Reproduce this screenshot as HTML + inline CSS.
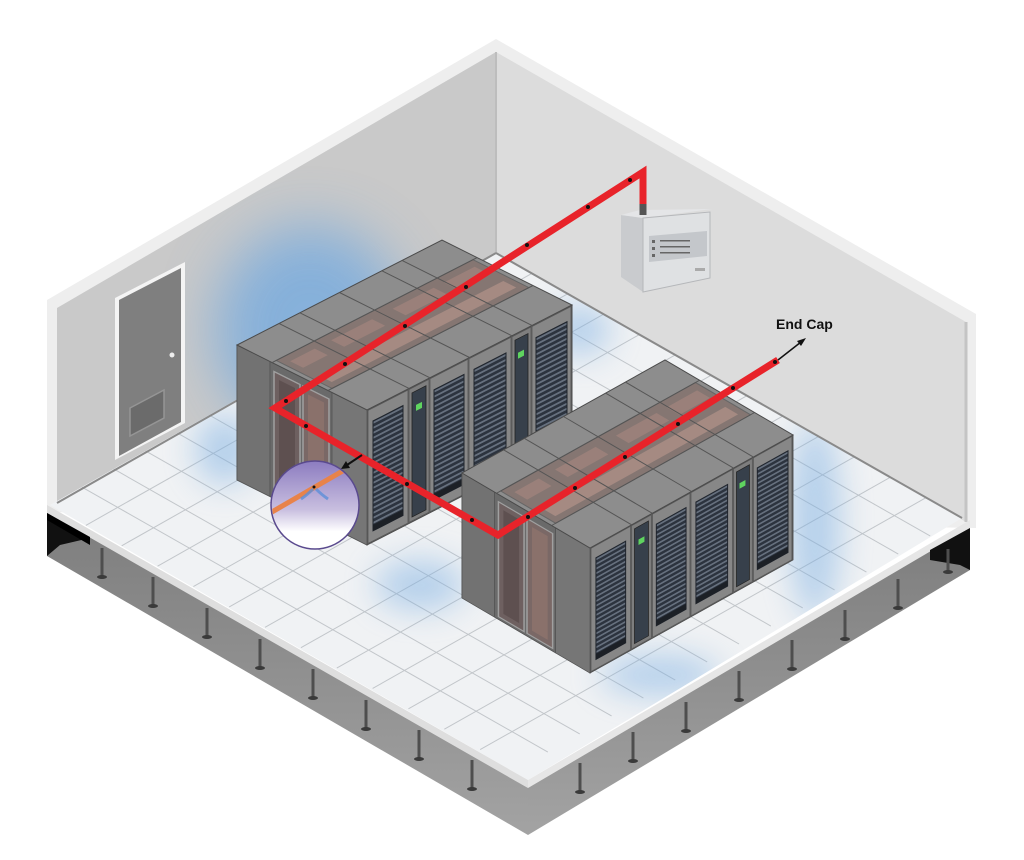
<!DOCTYPE html>
<html><head><meta charset="utf-8"><style>
html,body{margin:0;padding:0;background:#fff;}
svg{display:block;}
</style></head><body>
<svg width="1024" height="860" viewBox="0 0 1024 860" xmlns="http://www.w3.org/2000/svg">
<defs>
<filter id="blur" x="-80%" y="-80%" width="260%" height="260%"><feGaussianBlur stdDeviation="28"/></filter>
<filter id="blur2" x="-80%" y="-80%" width="260%" height="260%"><feGaussianBlur stdDeviation="16"/></filter>
<linearGradient id="baseL" x1="0" y1="0" x2="0" y2="1"><stop offset="0" stop-color="#7d7d7d"/><stop offset="1" stop-color="#a3a3a3"/></linearGradient>
<linearGradient id="mag" x1="0" y1="0" x2="0" y2="1"><stop offset="0" stop-color="#8c7cc0"/><stop offset="0.55" stop-color="#c8bedf"/><stop offset="0.8" stop-color="#ffffff"/></linearGradient>
<pattern id="stripes" width="6" height="5" patternUnits="userSpaceOnUse"><rect width="6" height="5" fill="#2c333e"/><rect y="0" width="6" height="2" fill="#66707e"/></pattern>
<clipPath id="wallclip"><polygon points="57,308 496,52 966,322 966,522 496,253 57,503"/></clipPath>
<clipPath id="floorclip"><polygon points="496,253 962,518 528,780 50,505"/></clipPath>
<g id="rf">
  <rect x="0" y="0" width="205" height="135" fill="#7c7c7c" stroke="#4a4a4a" stroke-width="1"/>
  <rect x="1" y="1" width="40" height="133" fill="#878787" stroke="#555" stroke-width="0.8"/>
  <rect x="6" y="14" width="30" height="110" fill="url(#stripes)" stroke="#1f242c" stroke-width="1"/>
  <rect x="6" y="118" width="30" height="6" fill="#1c2026"/>
  <rect x="42" y="1" width="20" height="133" fill="#7e7e7e" stroke="#555" stroke-width="0.8"/>
  <rect x="45" y="6" width="14" height="124" fill="#37404b" stroke="#222" stroke-width="0.8"/>
  <rect x="49" y="20" width="6" height="6" fill="#5fd45f"/>
  <rect x="63" y="1" width="38" height="133" fill="#878787" stroke="#555" stroke-width="0.8"/>
  <rect x="67" y="14" width="30" height="110" fill="url(#stripes)" stroke="#1f242c" stroke-width="1"/>
  <rect x="67" y="118" width="30" height="6" fill="#1c2026"/>
  <rect x="102" y="1" width="42" height="133" fill="#878787" stroke="#555" stroke-width="0.8"/>
  <rect x="107" y="14" width="32" height="110" fill="url(#stripes)" stroke="#1f242c" stroke-width="1"/>
  <rect x="107" y="118" width="32" height="6" fill="#1c2026"/>
  <rect x="145" y="1" width="19" height="133" fill="#7e7e7e" stroke="#555" stroke-width="0.8"/>
  <rect x="148" y="6" width="13" height="124" fill="#37404b" stroke="#222" stroke-width="0.8"/>
  <rect x="151" y="20" width="6" height="6" fill="#5fd45f"/>
  <rect x="165" y="1" width="39" height="133" fill="#878787" stroke="#555" stroke-width="0.8"/>
  <rect x="169" y="14" width="31" height="110" fill="url(#stripes)" stroke="#1f242c" stroke-width="1"/>
  <rect x="169" y="118" width="31" height="6" fill="#1c2026"/>
</g>
<g id="lf">
  <rect x="0" y="0" width="130" height="135" fill="#6c6c6c" stroke="#444" stroke-width="1"/>
  <rect x="0" y="0" width="33" height="135" fill="#727272" stroke="#555" stroke-width="0.8"/>
  <rect x="33" y="0" width="62" height="135" fill="#6a6a6a" stroke="#555" stroke-width="0.8"/>
  <rect x="37" y="8" width="26" height="124" fill="#6e6060" stroke="#a0a0a0" stroke-width="1.5"/>
  <rect x="66" y="8" width="26" height="124" fill="#7a6866" stroke="#a0a0a0" stroke-width="1.5"/>
  <rect x="42" y="14" width="16" height="112" fill="#5e5050"/>
  <rect x="71" y="14" width="16" height="112" fill="#8a716b"/>
  <rect x="95" y="0" width="35" height="135" fill="#767676" stroke="#555" stroke-width="0.8"/>
</g>
<g id="tf">
  <rect x="0" y="0" width="1" height="1" fill="#8d8d8d" stroke="#4a4a4a" stroke-width="1" vector-effect="non-scaling-stroke"/>
  <rect x="0.27" y="0.02" width="0.43" height="0.96" fill="#857672" stroke="#666" stroke-width="1" vector-effect="non-scaling-stroke"/>
  <rect x="0.33" y="0.05" width="0.1" height="0.12" fill="#9a807a"/>
  <rect x="0.33" y="0.25" width="0.1" height="0.2" fill="#9a807a"/>
  <rect x="0.33" y="0.55" width="0.1" height="0.2" fill="#9a807a"/>
  <rect x="0.33" y="0.8" width="0.1" height="0.15" fill="#9a807a"/>
  <rect x="0.55" y="0.05" width="0.1" height="0.9" fill="#a58a82"/>
  <g stroke="#555" stroke-width="1">
   <line x1="0" y1="0.205" x2="1" y2="0.205" vector-effect="non-scaling-stroke"/>
   <line x1="0" y1="0.307" x2="1" y2="0.307" vector-effect="non-scaling-stroke"/>
   <line x1="0" y1="0.5" x2="1" y2="0.5" vector-effect="non-scaling-stroke"/>
   <line x1="0" y1="0.707" x2="1" y2="0.707" vector-effect="non-scaling-stroke"/>
   <line x1="0" y1="0.805" x2="1" y2="0.805" vector-effect="non-scaling-stroke"/>
   <line x1="0.27" y1="0" x2="0.27" y2="1" vector-effect="non-scaling-stroke"/>
   <line x1="0.7" y1="0" x2="0.7" y2="1" vector-effect="non-scaling-stroke"/>
  </g>
</g>
</defs>

<!-- walls -->
<polygon points="47,300 496,39 976,314 976,528 47,512" fill="#eeeeee"/>
<polygon points="57,308 496,52 496,253 57,503" fill="#c9c9c9"/>
<polygon points="496,52 966,322 966,522 496,253" fill="#dcdcdc"/>
<line x1="496" y1="52" x2="496" y2="253" stroke="#bdbdbd" stroke-width="2"/>
<line x1="966" y1="322" x2="966" y2="522" stroke="#c4c4c4" stroke-width="3"/>
<g clip-path="url(#wallclip)"><ellipse cx="310" cy="330" rx="95" ry="105" fill="#6fa8e0" filter="url(#blur)" opacity="0.75"/></g>

<!-- floor -->
<polygon points="496,253 962,518 528,780 50,505" fill="#f0f2f4"/>
<g transform="matrix(-446,252,466,265,496,253)" stroke="#c2c6ca" stroke-width="1" fill="none">
<line x1="0.0714" y1="0" x2="0.0714" y2="1" vector-effect="non-scaling-stroke"/><line x1="0.1429" y1="0" x2="0.1429" y2="1" vector-effect="non-scaling-stroke"/><line x1="0.2143" y1="0" x2="0.2143" y2="1" vector-effect="non-scaling-stroke"/><line x1="0.2857" y1="0" x2="0.2857" y2="1" vector-effect="non-scaling-stroke"/><line x1="0.3571" y1="0" x2="0.3571" y2="1" vector-effect="non-scaling-stroke"/><line x1="0.4286" y1="0" x2="0.4286" y2="1" vector-effect="non-scaling-stroke"/><line x1="0.5" y1="0" x2="0.5" y2="1" vector-effect="non-scaling-stroke"/><line x1="0.5714" y1="0" x2="0.5714" y2="1" vector-effect="non-scaling-stroke"/><line x1="0.6429" y1="0" x2="0.6429" y2="1" vector-effect="non-scaling-stroke"/><line x1="0.7143" y1="0" x2="0.7143" y2="1" vector-effect="non-scaling-stroke"/><line x1="0.7857" y1="0" x2="0.7857" y2="1" vector-effect="non-scaling-stroke"/><line x1="0.8571" y1="0" x2="0.8571" y2="1" vector-effect="non-scaling-stroke"/><line x1="0.9286" y1="0" x2="0.9286" y2="1" vector-effect="non-scaling-stroke"/>
<line y1="0.0769" x1="0" y2="0.0769" x2="1" vector-effect="non-scaling-stroke"/><line y1="0.1538" x1="0" y2="0.1538" x2="1" vector-effect="non-scaling-stroke"/><line y1="0.2308" x1="0" y2="0.2308" x2="1" vector-effect="non-scaling-stroke"/><line y1="0.3077" x1="0" y2="0.3077" x2="1" vector-effect="non-scaling-stroke"/><line y1="0.3846" x1="0" y2="0.3846" x2="1" vector-effect="non-scaling-stroke"/><line y1="0.4615" x1="0" y2="0.4615" x2="1" vector-effect="non-scaling-stroke"/><line y1="0.5385" x1="0" y2="0.5385" x2="1" vector-effect="non-scaling-stroke"/><line y1="0.6154" x1="0" y2="0.6154" x2="1" vector-effect="non-scaling-stroke"/><line y1="0.6923" x1="0" y2="0.6923" x2="1" vector-effect="non-scaling-stroke"/><line y1="0.7692" x1="0" y2="0.7692" x2="1" vector-effect="non-scaling-stroke"/><line y1="0.8462" x1="0" y2="0.8462" x2="1" vector-effect="non-scaling-stroke"/><line y1="0.9231" x1="0" y2="0.9231" x2="1" vector-effect="non-scaling-stroke"/>
</g>
<g opacity="0.5" clip-path="url(#floorclip)">
<ellipse cx="225" cy="450" rx="30" ry="35" fill="#78ade2" filter="url(#blur2)"/>
<ellipse cx="420" cy="585" rx="45" ry="25" fill="#78ade2" filter="url(#blur2)"/>
<ellipse cx="815" cy="520" rx="25" ry="100" fill="#78ade2" filter="url(#blur2)"/>
<ellipse cx="660" cy="675" rx="60" ry="20" fill="#78ade2" filter="url(#blur2)"/>
<ellipse cx="580" cy="330" rx="30" ry="25" fill="#78ade2" filter="url(#blur2)"/>
</g>
<line x1="57" y1="503" x2="496" y2="253" stroke="#8a8a8a" stroke-width="2"/>
<line x1="496" y1="253" x2="962" y2="518" stroke="#8a8a8a" stroke-width="2"/>

<!-- slab edge and base -->
<polygon points="47,505 528,780 528,788 47,513" fill="#dedede"/>
<polygon points="528,780 970,520 970,528 528,788" fill="#e6e6e6"/>
<polygon points="47,513 528,788 528,835 47,556" fill="url(#baseL)"/>
<polygon points="528,788 970,528 970,570 528,835" fill="url(#baseL)"/>
<polygon points="47,513 90,538 60,545 47,556" fill="#111"/>
<polygon points="47,513 90,537 90,545 47,520" fill="#000"/>
<polygon points="930,550 970,528 970,570 960,565 930,560" fill="#111"/>
<g stroke="#4e4e4e" stroke-width="3">
<line x1="102" y1="548" x2="102" y2="576"/><line x1="153" y1="577" x2="153" y2="605"/><line x1="207" y1="608" x2="207" y2="636"/><line x1="260" y1="639" x2="260" y2="667"/><line x1="313" y1="669" x2="313" y2="697"/><line x1="366" y1="700" x2="366" y2="728"/><line x1="419" y1="730" x2="419" y2="758"/><line x1="472" y1="760" x2="472" y2="788"/>
<line x1="580" y1="763" x2="580" y2="791"/><line x1="633" y1="732" x2="633" y2="760"/><line x1="686" y1="702" x2="686" y2="730"/><line x1="739" y1="671" x2="739" y2="699"/><line x1="792" y1="640" x2="792" y2="668"/><line x1="845" y1="610" x2="845" y2="638"/><line x1="898" y1="579" x2="898" y2="607"/><line x1="948" y1="549" x2="948" y2="571"/>
</g>
<g fill="#3a3a3a">
<ellipse cx="102" cy="577" rx="5" ry="2"/><ellipse cx="153" cy="606" rx="5" ry="2"/><ellipse cx="207" cy="637" rx="5" ry="2"/><ellipse cx="260" cy="668" rx="5" ry="2"/><ellipse cx="313" cy="698" rx="5" ry="2"/><ellipse cx="366" cy="729" rx="5" ry="2"/><ellipse cx="419" cy="759" rx="5" ry="2"/><ellipse cx="472" cy="789" rx="5" ry="2"/>
<ellipse cx="580" cy="792" rx="5" ry="2"/><ellipse cx="633" cy="761" rx="5" ry="2"/><ellipse cx="686" cy="731" rx="5" ry="2"/><ellipse cx="739" cy="700" rx="5" ry="2"/><ellipse cx="792" cy="669" rx="5" ry="2"/><ellipse cx="845" cy="639" rx="5" ry="2"/><ellipse cx="898" cy="608" rx="5" ry="2"/><ellipse cx="948" cy="572" rx="5" ry="2"/>
</g>

<!-- door -->
<polygon points="115,298 185,262 185,423 115,460" fill="#f4f4f4"/>
<polygon points="119,300 181,268 181,422 119,456" fill="#7f7f7f"/>
<polygon points="130,408 164,390 164,418 130,436" fill="#6b6b6b" stroke="#959595" stroke-width="1.5"/>
<circle cx="172" cy="355" r="2.5" fill="#eee"/>

<!-- panel -->
<polygon points="621,215 643,218 643,292 621,277" fill="#c9cbce"/>
<polygon points="621,215 640,210 712,209 643,218" fill="#e4e5e7"/>
<polygon points="643,218 710,212 710,278 643,292" fill="#dfe1e3" stroke="#b5b7ba" stroke-width="1"/>
<polygon points="649,236 707,231 707,256 649,262" fill="#c4c7cb"/>
<g fill="#666"><rect x="652" y="240" width="3" height="3"/><rect x="652" y="247" width="3" height="3"/><rect x="652" y="254" width="3" height="3"/><rect x="660" y="240" width="30" height="1.5"/><rect x="660" y="246" width="30" height="1.5"/><rect x="660" y="252" width="30" height="1.5"/></g>
<rect x="695" y="268" width="10" height="3" fill="#aaa"/>

<!-- row 1 -->
<use href="#rf" transform="matrix(1,-0.512,0,1,367,410)"/>
<use href="#lf" transform="matrix(1,0.5,0,1,237,345)"/>
<use href="#tf" transform="matrix(130,65,205,-105,237,345)"/>
<!-- row 2 -->
<use href="#rf" transform="matrix(1,-0.557,0,1,590,548) scale(0.99,0.926)"/>
<use href="#lf" transform="matrix(1,0.586,0,1,462,473) scale(0.985,0.926)"/>
<use href="#tf" transform="matrix(128,75,203,-113,462,473)"/>

<!-- pipe -->
<polyline points="643,212 643,172 275,408 498,535 778,360" fill="none" stroke="#e8232a" stroke-width="7" stroke-linejoin="miter"/>
<line x1="643" y1="204" x2="643" y2="215" stroke="#555" stroke-width="7"/>
<g fill="#111">
<circle cx="630" cy="180" r="2"/><circle cx="588" cy="207" r="2"/><circle cx="527" cy="245" r="2"/><circle cx="466" cy="287" r="2"/><circle cx="405" cy="326" r="2"/><circle cx="345" cy="364" r="2"/><circle cx="286" cy="401" r="2"/>
<circle cx="306" cy="426" r="2"/><circle cx="407" cy="484" r="2"/><circle cx="472" cy="520" r="2"/>
<circle cx="528" cy="517" r="2"/><circle cx="575" cy="488" r="2"/><circle cx="625" cy="457" r="2"/><circle cx="678" cy="424" r="2"/><circle cx="733" cy="388" r="2"/><circle cx="775" cy="362" r="2"/>
</g>

<!-- end cap -->
<line x1="778" y1="360" x2="801" y2="342" stroke="#111" stroke-width="1.5"/>
<polygon points="806,338 797,341 801,346" fill="#111"/>
<text x="776" y="329" font-family="Liberation Sans, sans-serif" font-size="14" font-weight="bold" fill="#111">End Cap</text>

<!-- magnifier -->
<line x1="362" y1="455" x2="347" y2="465" stroke="#111" stroke-width="2"/>
<polygon points="341,469 350,468 346,461" fill="#111"/>
<circle cx="315" cy="505" r="44" fill="url(#mag)" stroke="#5a4a8e" stroke-width="1.5"/>
<clipPath id="mc"><circle cx="315" cy="505" r="43"/></clipPath>
<g clip-path="url(#mc)">
<line x1="265" y1="516" x2="365" y2="458" stroke="#e8834a" stroke-width="5"/>
<path d="M313,489 q-6,6 -12,10 M316,489 q6,6 12,10" stroke="#5d8fd8" stroke-width="3" fill="none" opacity="0.8"/>
<circle cx="314" cy="487" r="1.5" fill="#111"/>
</g>
</svg>
</body></html>
